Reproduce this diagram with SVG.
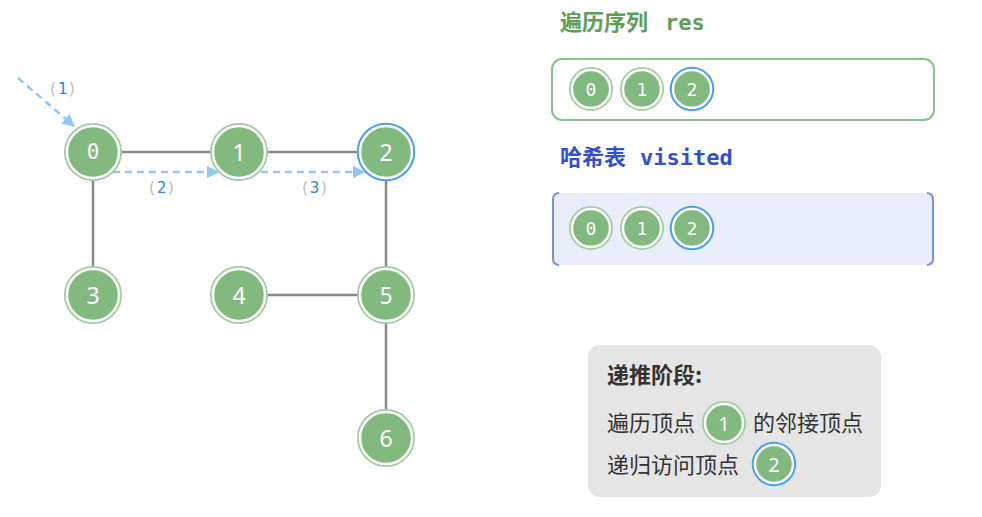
<svg xmlns="http://www.w3.org/2000/svg" width="982" height="517" viewBox="0 0 982 517">
<defs>
<style>
.edge{stroke:#8a8a8a;stroke-width:2.5;fill:none}
.dash{stroke:#8ec7f2;stroke-width:2.5;fill:none;stroke-dasharray:7 5}
.ring{fill:#82b97f;stroke:#fff;stroke-width:2.5}
.outer{fill:none;stroke:#9ccf99;stroke-width:2}
.outerb{fill:none;stroke:#47a2ec;stroke-width:2.5}
.num{font-family:"DejaVu Sans Mono","Liberation Mono",monospace;font-size:21px;fill:#fff;text-anchor:middle;dominant-baseline:central}
.numl{font-family:"Noto Sans","DejaVu Sans",sans-serif;font-size:23px;fill:#fff;text-anchor:middle;dominant-baseline:central}
.sm{font-family:"DejaVu Sans Mono","Liberation Mono",monospace;font-size:18px;fill:#fff;text-anchor:middle;dominant-baseline:central}
.lbl{font-family:"DejaVu Sans Mono","Liberation Mono",monospace;font-size:16px;fill:#c0c0c0}
.cjk{font-family:"Noto Sans CJK SC","Noto Sans",sans-serif;font-size:22px;fill:#333}
.ttl{font-family:"Noto Sans CJK SC","DejaVu Sans Mono",sans-serif;font-size:22px;font-weight:bold}
.mono{font-family:"DejaVu Sans Mono","Liberation Mono",monospace}
</style>
<marker id="ah" viewBox="0 0 10 10" refX="9" refY="5" markerWidth="5" markerHeight="5" orient="auto"><path d="M0,0 L10,5 L0,10 z" fill="#8ec7f2"/></marker>
</defs>
<rect width="982" height="517" fill="#fff"/>
<g id="connectors">
<line class="edge" x1="121" y1="152" x2="211" y2="152"/>
<line class="edge" x1="267" y1="152" x2="358" y2="152"/>
<line class="edge" x1="93" y1="180" x2="93" y2="267"/>
<line class="edge" x1="386" y1="180" x2="386" y2="267"/>
<line class="edge" x1="267" y1="295" x2="358" y2="295"/>
<line class="edge" x1="386" y1="323" x2="386" y2="410"/>
<line class="dash" x1="18" y1="78" x2="74" y2="126" marker-end="url(#ah)"/>
<line class="dash" x1="113" y1="172" x2="218" y2="172" marker-end="url(#ah)"/>
<line class="dash" x1="261" y1="172" x2="364" y2="172" marker-end="url(#ah)"/>
<text class="lbl" x="48" y="94">(<tspan fill="#2a8ad8">1</tspan>)</text>
<text class="lbl" x="147" y="193">(<tspan fill="#2a8ad8">2</tspan>)</text>
<text class="lbl" x="300" y="193">(<tspan fill="#2a8ad8">3</tspan>)</text>
</g>
<g id="node0"><circle class="outer" cx="93" cy="152" r="28"/><circle class="ring" cx="93" cy="152" r="26"/><text class="num" x="93" y="152">0</text></g>
<g id="node1"><circle class="outer" cx="239" cy="152" r="28"/><circle class="ring" cx="239" cy="152" r="26"/><text class="numl" x="239" y="152">1</text></g>
<g id="node2"><circle class="outerb" cx="386" cy="152" r="28"/><circle class="ring" cx="386" cy="152" r="26"/><text class="numl" x="386" y="152">2</text></g>
<g id="node3"><circle class="outer" cx="93" cy="295" r="28"/><circle class="ring" cx="93" cy="295" r="26"/><text class="numl" x="93" y="295">3</text></g>
<g id="node4"><circle class="outer" cx="239" cy="295" r="28"/><circle class="ring" cx="239" cy="295" r="26"/><text class="numl" x="239" y="295">4</text></g>
<g id="node5"><circle class="outer" cx="386" cy="295" r="28"/><circle class="ring" cx="386" cy="295" r="26"/><text class="numl" x="386" y="295">5</text></g>
<g id="node6"><circle class="outer" cx="386" cy="438" r="28"/><circle class="ring" cx="386" cy="438" r="26"/><text class="numl" x="386" y="438">6</text></g>

<g id="res">
<text class="ttl" x="560" y="30" fill="#5a9e58">遍历序列<tspan class="mono" x="665">res</tspan></text>
<rect x="552" y="59" width="382" height="61" rx="10" fill="#fff" stroke="#88c285" stroke-width="2"/>
<circle class="outer" cx="591" cy="89" r="21"/><circle class="ring" cx="591" cy="89" r="19"/><text class="sm" x="591" y="89">0</text>
<circle class="outer" cx="642" cy="89" r="21"/><circle class="ring" cx="642" cy="89" r="19"/><text class="sm" x="642" y="89">1</text>
<circle class="outerb" cx="692" cy="89" r="21"/><circle class="ring" cx="692" cy="89" r="19"/><text class="sm" x="692" y="89">2</text>
</g>
<g id="visited">
<text class="ttl" x="560" y="165" fill="#3550cf">哈希表<tspan class="mono" x="640">visited</tspan></text>
<rect x="552" y="193" width="382" height="72" fill="#eaeefb"/>
<path d="M559,193 A6,6 0 0 0 553,199 L553,259 A6,6 0 0 0 559,265" fill="none" stroke="#7890e0" stroke-width="2"/>
<path d="M927,193 A6,6 0 0 1 933,199 L933,259 A6,6 0 0 1 927,265" fill="none" stroke="#7890e0" stroke-width="2"/>
<circle class="outer" cx="591" cy="228" r="21"/><circle class="ring" cx="591" cy="228" r="19"/><text class="sm" x="591" y="228">0</text>
<circle class="outer" cx="642" cy="228" r="21"/><circle class="ring" cx="642" cy="228" r="19"/><text class="sm" x="642" y="228">1</text>
<circle class="outerb" cx="692" cy="228" r="21"/><circle class="ring" cx="692" cy="228" r="19"/><text class="sm" x="692" y="228">2</text>
</g>
<g id="legend">
<rect x="588" y="345" width="293" height="152" rx="12" fill="#e5e5e5"/>
<text class="cjk" x="607" y="383" font-weight="bold">递推阶段:</text>
<text class="cjk" x="607" y="431">遍历顶点</text>
<circle class="outer" cx="724" cy="423" r="21"/><circle class="ring" cx="724" cy="423" r="19"/><text class="numl" x="724" y="423" style="font-size:20px">1</text>
<text class="cjk" x="753" y="431">的邻接顶点</text>
<text class="cjk" x="607" y="473">递归访问顶点</text>
<circle class="outerb" cx="774" cy="464" r="21"/><circle class="ring" cx="774" cy="464" r="19"/><text class="numl" x="774" y="464" style="font-size:20px">2</text>
</g>
</svg>
